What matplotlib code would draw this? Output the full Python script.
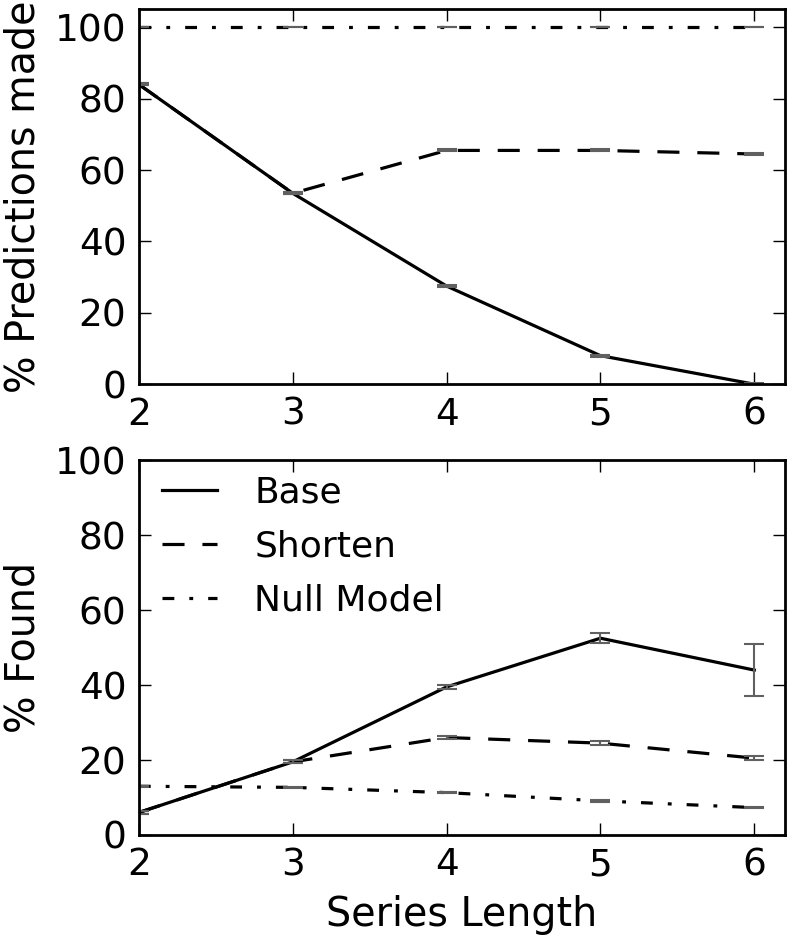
import matplotlib
matplotlib.use("Agg")
import matplotlib.pyplot as plt

lengths = [2, 3, 4, 5, 6]

# top panel: % predictions made
pred_base = [84, 53.5, 27.5, 8, 0]
pred_shorten = [84, 53.5, 65.5, 65.5, 64.5]
pred_null = [100, 100, 100, 100, 100]
pred_base_err = [0.3, 0.3, 0.3, 0.3, 0.2]
pred_shorten_err = [0.3, 0.3, 0.3, 0.3, 0.3]
pred_null_err = [0, 0, 0, 0, 0]

# bottom panel: % found
found_base = [6, 19.5, 39.5, 52.5, 44]
found_shorten = [6, 19.5, 26, 24.5, 20.5]
found_null = [13, 12.7, 11.3, 9.1, 7.3]
found_base_err = [0.3, 0.4, 0.6, 1.3, 7]
found_shorten_err = [0.3, 0.4, 0.4, 0.5, 0.6]
found_null_err = [0.1, 0.1, 0.1, 0.2, 0.1]

plt.rcParams['font.family'] = 'DejaVu Sans'
plt.rcParams['font.size'] = 27

fig = plt.figure(figsize=(7.89, 9.44), dpi=100)
ax1 = fig.add_axes([0.176, 0.593, 0.819, 0.397])
ax2 = fig.add_axes([0.176, 0.1155, 0.819, 0.397])

styles = [('Base', None), ('Shorten', (6.9, 5.6)), ('Null Model', (3.7, 4.7, 1.2, 4.7))]


def draw(ax, series, errs):
    for (name, dash), y, e in zip(styles, series, errs):
        ln, = ax.plot(lengths, y, color='black', lw=2.3, label=name)
        if dash is not None:
            ln.set_dashes(dash)
        ax.errorbar(lengths, y, yerr=e, fmt='none', ecolor='#606060',
                    elinewidth=1.5, capsize=7, capthick=1.5)
    ax.set_xlim(2, 6.2)
    ax.set_xticks(lengths)
    ax.set_yticks([0, 20, 40, 60, 80, 100])
    ax.tick_params(direction='in', length=8.5, width=1, pad=9,
                   top=True, right=True)
    for s in ax.spines.values():
        s.set_linewidth(2)


draw(ax1, [pred_base, pred_shorten, pred_null],
     [pred_base_err, pred_shorten_err, pred_null_err])
ax1.set_ylim(0, 105)
ax1.set_ylabel('% Predictions made', fontsize=28.5, labelpad=8)

draw(ax2, [found_base, found_shorten, found_null],
     [found_base_err, found_shorten_err, found_null_err])
ax2.set_ylim(0, 100)
ax2.set_ylabel('% Found', fontsize=28.5, labelpad=8)
ax2.set_xlabel('Series Length', fontsize=28.5, labelpad=8)
ax2.legend(loc='upper left', bbox_to_anchor=(0, 1.021), frameon=False,
           fontsize=26, handlelength=1.5, handletextpad=1.05,
           labelspacing=0.55, borderpad=0.2, borderaxespad=0.45)

fig.savefig('out.png', dpi=100)
